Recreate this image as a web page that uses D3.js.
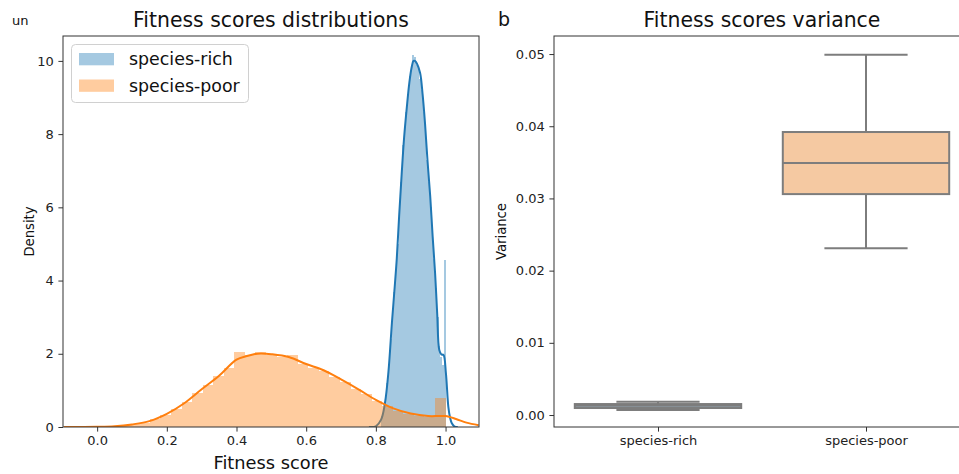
<!DOCTYPE html>
<html>
<head>
<meta charset="utf-8">
<script src="https://cdn.jsdelivr.net/npm/d3@7"></script>
<style>
  html, body { margin: 0; padding: 0; background: #fff; }
  svg { display: block; font-family: "DejaVu Sans", sans-serif; }
</style>
</head>
<body>
<svg id="chart" width="959" height="474"></svg>
<script>
// ---------------- DATA ----------------
const seriesNames = ["species-rich", "species-poor"];

// Histogram (density) for species-rich: left bin edges, width, heights
const richBinEdges = [0.815,0.820,0.825,0.830,0.835,0.840,0.845,0.850,0.855,0.860,
  0.865,0.870,0.875,0.880,0.885,0.890,0.895,0.900,0.905,0.910,
  0.915,0.920,0.925,0.930,0.935,0.940,0.945,0.950,0.955,0.960,
  0.965,0.970,0.975,0.980,0.985,0.990,0.995];
const richBinWidth = 0.005;
const richHist = [0.3,0.5,0.8,1.2,1.7,2.4,3.0,3.7,4.3,5.0,
  5.9,6.7,7.7,8.1,8.6,9.1,9.6,9.8,10.15,10.1,
  9.9,9.8,9.5,9.2,8.6,8.0,7.3,6.7,6.0,5.3,
  4.6,3.8,3.0,2.2,1.9,1.7,4.55];

// Histogram (density) for species-poor
const poorBinEdges = [0,0.0303,0.0606,0.0909,0.1212,0.1515,0.1818,0.2121,0.2424,0.2727,
  0.3030,0.3333,0.3636,0.3939,0.4242,0.4545,0.4848,0.5152,0.5455,0.5758,
  0.6061,0.6364,0.6667,0.6970,0.7273,0.7576,0.7879,0.8182,0.8485,0.8788,
  0.9091,0.9394,0.9697];
const poorBinWidth = 0.0303;
const poorHist = [0.01,0.02,0.04,0.07,0.12,0.22,0.34,0.50,0.68,0.92,
  1.15,1.38,1.62,2.06,1.96,2.05,1.97,1.90,1.96,1.72,
  1.62,1.52,1.36,1.22,1.05,0.90,0.70,0.58,0.45,0.36,
  0.30,0.26,0.80];

// KDE curves [x, density]
const richKdeX = [0.78,0.80,0.815,0.826,0.836,0.846,0.853,0.86,0.867,0.874,0.881,0.889,0.896,0.903,0.908,0.912,0.918,0.927,0.934,0.941,0.948,0.956,0.963,0.97,0.976,0.982,0.988,0.994,1.001,1.008,1.013,1.018,1.025,1.035];
const richKdeY = [0.0,0.02,0.2,0.65,1.5,2.84,3.7,4.6,5.8,6.9,7.9,8.75,9.4,9.84,10.0,10.0,9.92,9.67,9.1,8.3,7.3,6.3,5.2,4.2,3.1,2.1,1.98,1.97,1.47,0.55,0.25,0.1,0.02,0.0];
const poorKdeX = [-0.095,0.0,0.05,0.10,0.15,0.20,0.25,0.30,0.35,0.40,0.43,0.45,0.47,0.50,0.55,0.60,0.65,0.70,0.75,0.80,0.85,0.90,0.95,0.98,1.00,1.03,1.06,1.095];
const poorKdeY = [0.0,0.005,0.02,0.07,0.16,0.36,0.65,1.03,1.40,1.84,1.94,1.99,2.01,1.99,1.91,1.72,1.55,1.30,1.03,0.74,0.51,0.37,0.30,0.30,0.30,0.22,0.12,0.05];

// Boxplot stats for variance
const boxStats = [
  { name: "species-rich", whiskLo: 0.0007, q1: 0.00097, median: 0.00128, q3: 0.00152, whiskHi: 0.00184 },
  { name: "species-poor", whiskLo: 0.0231, q1: 0.0306, median: 0.0349, q3: 0.0392, whiskHi: 0.0499 }
];

const leftXTicks = [0.0,0.2,0.4,0.6,0.8,1.0];
const leftYTicks = [0,2,4,6,8,10];
const rightYTicks = [0.00,0.01,0.02,0.03,0.04,0.05];

// ---------------- STYLE ----------------
const colors = ["#1f77b4", "#ff7f0e"];
const boxFill = ["#a9c6de", "#f5c9a2"];
const boxLine = "#7d7d7d";
const tickFont = 13;

const svg = d3.select("#chart");

// ---------------- LEFT PANEL ----------------
const L = { left: 63, right: 479, top: 36, bottom: 427 };
const xL = d3.scaleLinear().domain([-0.098, 1.096]).range([L.left, L.right]);
const yL = d3.scaleLinear().domain([0, 10.68]).range([L.bottom, L.top]);

svg.append("clipPath").attr("id", "clipL").append("rect")
  .attr("x", L.left).attr("y", L.top).attr("width", L.right - L.left).attr("height", L.bottom - L.top);

const gL = svg.append("g").attr("clip-path", "url(#clipL)");

function drawHist(edges, width, heights, color) {
  gL.append("g").attr("shape-rendering", "crispEdges")
    .selectAll("rect").data(heights).join("rect")
    .attr("x", (d, i) => Math.round(xL(edges[i])))
    .attr("width", (d, i) => Math.max(1, Math.round(xL(edges[i] + width)) - Math.round(xL(edges[i]))))
    .attr("y", d => yL(d))
    .attr("height", d => yL(0) - yL(d))
    .attr("fill", color).attr("fill-opacity", 0.4);
}
drawHist(richBinEdges, richBinWidth, richHist, colors[0]);
const line = d3.line().x(d => xL(d[0])).y(d => yL(d[1])).curve(d3.curveCatmullRom.alpha(0.5));
gL.append("path").datum(richKdeX.map((x, i) => [x, richKdeY[i]]))
  .attr("d", line).attr("fill", "none").attr("stroke", colors[0]).attr("stroke-width", 2);
drawHist(poorBinEdges, poorBinWidth, poorHist, colors[1]);
gL.append("path").datum(poorKdeX.map((x, i) => [x, poorKdeY[i]]))
  .attr("d", line).attr("fill", "none").attr("stroke", colors[1]).attr("stroke-width", 2);

// axes
const axL = svg.append("g").attr("transform", `translate(${L.left},0)`)
  .call(d3.axisLeft(yL).tickValues(leftYTicks).tickFormat(d3.format("d")).tickSize(4.6).tickPadding(4.6));
const axB = svg.append("g").attr("transform", `translate(0,${L.bottom})`)
  .call(d3.axisBottom(xL).tickValues(leftXTicks).tickFormat(d3.format(".1f")).tickSize(4.6).tickPadding(4.6));
[axL, axB].forEach(a => {
  a.select(".domain").remove();
  a.selectAll("text").attr("font-size", tickFont).attr("font-family", "DejaVu Sans").attr("fill", "#222");
  a.selectAll("line").attr("stroke", "#333");
});
svg.append("rect").attr("x", L.left).attr("y", L.top).attr("width", L.right - L.left).attr("height", L.bottom - L.top)
  .attr("fill", "none").attr("stroke", "#333").attr("stroke-width", 1);

svg.append("text").attr("x", (L.left + L.right) / 2).attr("y", 27).attr("text-anchor", "middle")
  .attr("font-size", 20.4).attr("fill", "#111").text("Fitness scores distributions");
svg.append("text").attr("x", (L.left + L.right) / 2).attr("y", 469).attr("text-anchor", "middle")
  .attr("font-size", 17.8).attr("fill", "#111").text("Fitness score");
svg.append("text").attr("transform", `translate(34,${(L.top + L.bottom) / 2}) rotate(-90)`).attr("text-anchor", "middle")
  .attr("font-size", 13.2).attr("fill", "#111").text("Density");
svg.append("text").attr("x", 12).attr("y", 25).attr("font-size", 13).attr("fill", "#111").text("un");

// legend
const lg = svg.append("g");
lg.append("rect").attr("x", 71.5).attr("y", 44.5).attr("width", 177).attr("height", 58).attr("rx", 4)
  .attr("fill", "#fff").attr("fill-opacity", 0.8).attr("stroke", "#d0d0d0").attr("stroke-width", 1);
seriesNames.forEach((n, i) => {
  const yy = 53 + i * 26.5;
  lg.append("rect").attr("x", 79).attr("y", yy).attr("width", 35).attr("height", 12.3)
    .attr("fill", colors[i]).attr("fill-opacity", 0.4);
  lg.append("text").attr("x", 129).attr("y", yy + 12).attr("font-size", 17.4).attr("fill", "#111").text(n);
});

// ---------------- RIGHT PANEL ----------------
const R = { left: 554, right: 970, top: 36, bottom: 427 };
const xR = d3.scaleLinear().domain([-0.5, 1.5]).range([R.left, R.right]);
const yR = d3.scaleLinear().domain([-0.00166, 0.0525]).range([R.bottom, R.top]);

const gR = svg.append("g");
boxStats.forEach((b, i) => {
  const cx = xR(i), hw = (xR(0.4) - xR(0)), cw = hw / 2;
  gR.append("line").attr("x1", cx).attr("x2", cx).attr("y1", yR(b.q3)).attr("y2", yR(b.whiskHi))
    .attr("stroke", boxLine).attr("stroke-width", 2);
  gR.append("line").attr("x1", cx).attr("x2", cx).attr("y1", yR(b.q1)).attr("y2", yR(b.whiskLo))
    .attr("stroke", boxLine).attr("stroke-width", 2);
  gR.append("line").attr("x1", cx - cw).attr("x2", cx + cw).attr("y1", yR(b.whiskHi)).attr("y2", yR(b.whiskHi))
    .attr("stroke", boxLine).attr("stroke-width", 2);
  gR.append("line").attr("x1", cx - cw).attr("x2", cx + cw).attr("y1", yR(b.whiskLo)).attr("y2", yR(b.whiskLo))
    .attr("stroke", boxLine).attr("stroke-width", 2);
  gR.append("rect").attr("x", cx - hw).attr("width", 2 * hw)
    .attr("y", yR(b.q3)).attr("height", yR(b.q1) - yR(b.q3))
    .attr("fill", boxFill[i]).attr("stroke", boxLine).attr("stroke-width", 2);
  gR.append("line").attr("x1", cx - hw).attr("x2", cx + hw).attr("y1", yR(b.median)).attr("y2", yR(b.median))
    .attr("stroke", boxLine).attr("stroke-width", 2);
});

const axRL = svg.append("g").attr("transform", `translate(${R.left},0)`)
  .call(d3.axisLeft(yR).tickValues(rightYTicks).tickFormat(d3.format(".2f")).tickSize(4.6).tickPadding(4.6));
const axRB = svg.append("g").attr("transform", `translate(0,${R.bottom})`)
  .call(d3.axisBottom(xR).tickValues([0, 1]).tickFormat(i => seriesNames[i]).tickSize(4.6).tickPadding(4.6));
[axRL, axRB].forEach(a => {
  a.select(".domain").remove();
  a.selectAll("text").attr("font-size", tickFont).attr("font-family", "DejaVu Sans").attr("fill", "#222");
  a.selectAll("line").attr("stroke", "#333");
});
svg.append("rect").attr("x", R.left).attr("y", R.top).attr("width", R.right - R.left).attr("height", R.bottom - R.top)
  .attr("fill", "none").attr("stroke", "#333").attr("stroke-width", 1);

svg.append("text").attr("x", (R.left + R.right) / 2).attr("y", 27).attr("text-anchor", "middle")
  .attr("font-size", 20.4).attr("fill", "#111").text("Fitness scores variance");
svg.append("text").attr("transform", `translate(506,${(R.top + R.bottom) / 2}) rotate(-90)`).attr("text-anchor", "middle")
  .attr("font-size", 13.2).attr("fill", "#111").text("Variance");
svg.append("text").attr("x", 498).attr("y", 26).attr("font-size", 19).attr("fill", "#111").text("b");
</script>
</body>
</html>
